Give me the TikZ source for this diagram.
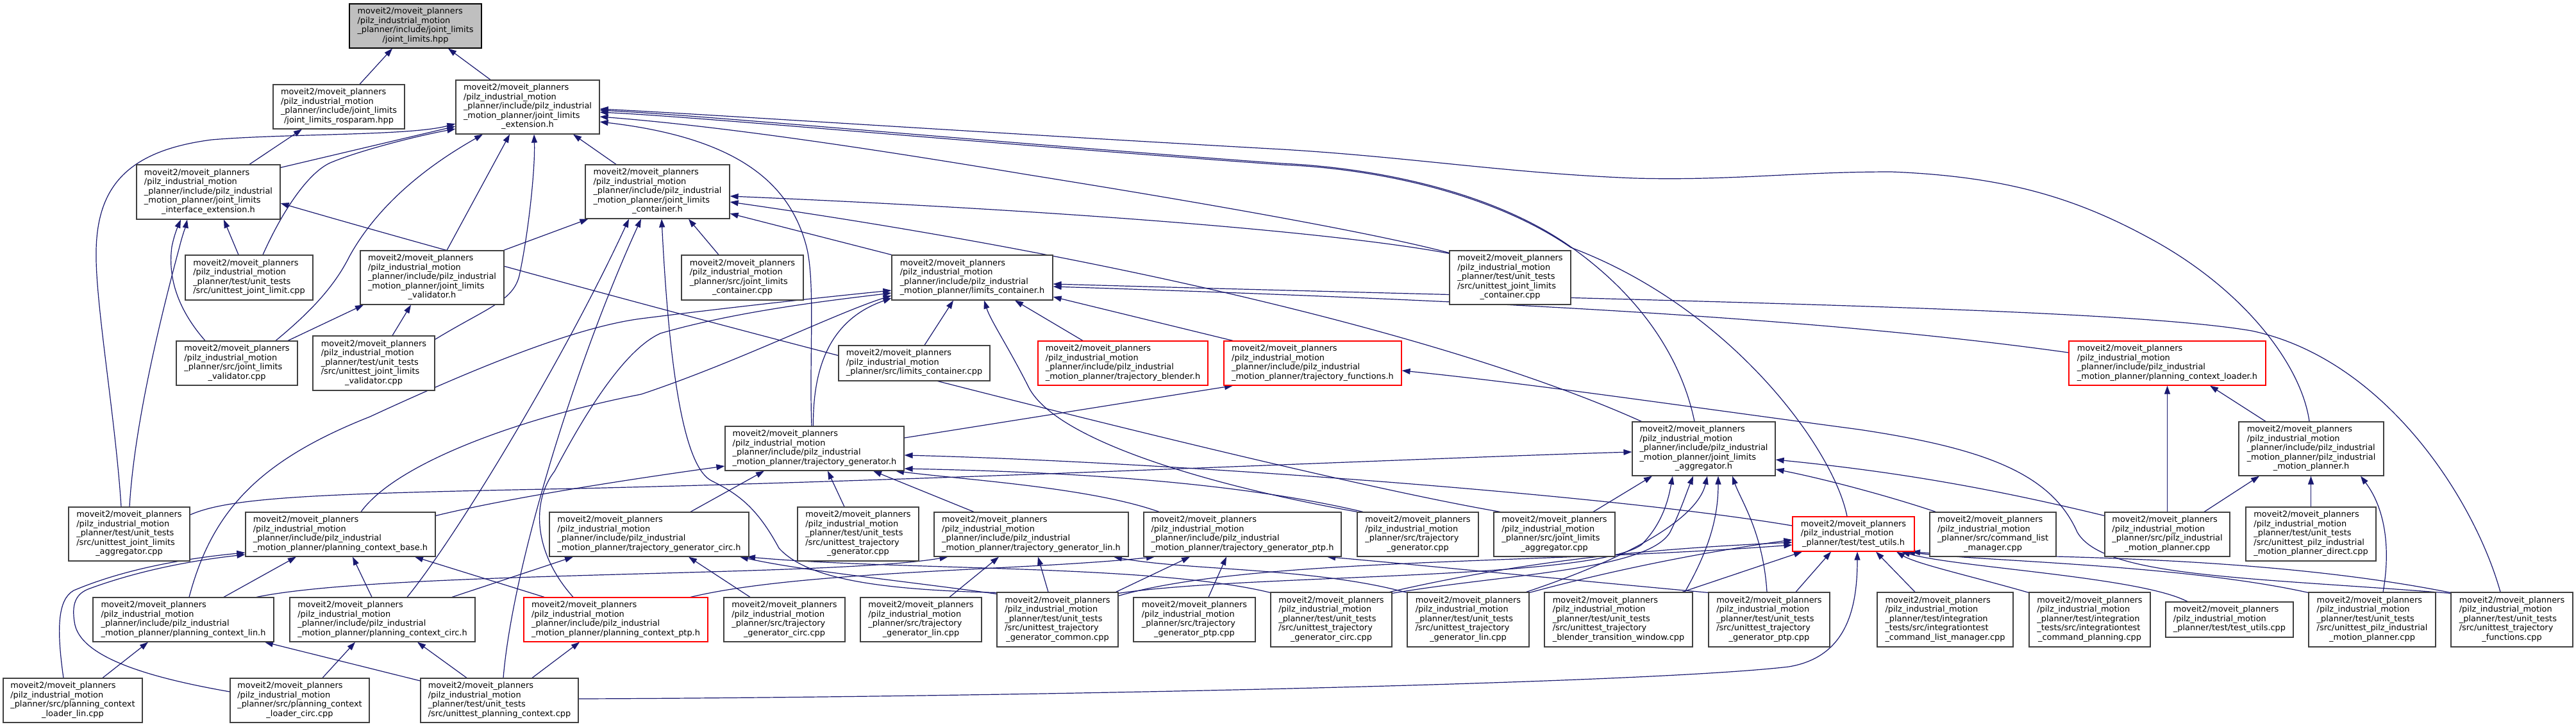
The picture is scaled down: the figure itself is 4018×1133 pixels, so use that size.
\documentclass[tikz,border=0pt]{standalone}
\usepackage{fontspec}
\newfontfamily\dvsans{DejaVu Sans}
\usetikzlibrary{arrows.meta,calc}
\pgfdeclarelayer{bg}
\pgfdeclarelayer{back}
\pgfsetlayers{back,bg,main}
\definecolor{eblue}{HTML}{191970}
\definecolor{bordc}{HTML}{404040}
\definecolor{rootfill}{HTML}{BFBFBF}
\newcommand\graphfont{\dvsans\fontsize{12.9pt}{14.5pt}\selectfont}
\newcommand\btx[2]{\begin{tabular}{@{}l@{}}#1\\\multicolumn{1}{@{}c@{}}{#2}\end{tabular}}
\newcommand\pfA{moveit2/moveit\_planners\\/pilz\_industrial\_motion}
\newcommand\pfInc{\pfA\\\_planner/include/pilz\_industrial}
\newcommand\pfUT{\pfA\\\_planner/test/unit\_tests}
\tikzset{
  nb/.style={draw=bordc, line width=1.2pt, fill=white, inner sep=0pt, font=\graphfont, text=black},
  rb/.style={nb, draw=red},
  gb/.style={nb, draw=black, fill=rootfill},
  edg/.style={draw=eblue, line width=1.2pt, -{Triangle[length=13pt,width=9pt]}},
}
\begin{document}
\begin{tikzpicture}[x=1pt,y=-1pt]
\begin{pgfonlayer}{back}
\fill[white] (0,0) rectangle (4018,1133);
\end{pgfonlayer}
\useasboundingbox (0,0) rectangle (4018,1133);
% ---------- nodes ----------
\node[gb, minimum width=206pt, minimum height=69pt] (ROOT) at (648,40.5) {\btx{\pfA\\\_planner/include/joint\_limits}{/joint\_limits.hpp}};
\node[nb, minimum width=205pt, minimum height=69pt] (ROS) at (528.5,166.5) {\btx{\pfA\\\_planner/include/joint\_limits}{/joint\_limits\_rosparam.hpp}};
\node[nb, minimum width=224pt, minimum height=84pt] (EXT) at (823,167) {\btx{\pfInc\\\_motion\_planner/joint\_limits}{\_extension.h}};
\node[nb, minimum width=224pt, minimum height=85pt] (IFACE) at (325,299.5) {\btx{\pfInc\\\_motion\_planner/joint\_limits}{\_interface\_extension.h}};
\node[nb, minimum width=225pt, minimum height=84pt] (JLC) at (1025.5,299) {\btx{\pfInc\\\_motion\_planner/joint\_limits}{\_container.h}};
\node[nb, minimum width=199pt, minimum height=70pt] (UTJL) at (388.5,433) {\btx{\pfUT}{/src/unittest\_joint\_limit.cpp}};
\node[nb, minimum width=224pt, minimum height=84pt] (VAL) at (674,433) {\btx{\pfInc\\\_motion\_planner/joint\_limits}{\_validator.h}};
\node[nb, minimum width=189pt, minimum height=69pt] (SVAL) at (369.5,566.5) {\btx{\pfA\\\_planner/src/joint\_limits}{\_validator.cpp}};
\node[nb, minimum width=190pt, minimum height=85pt] (UTVAL) at (583,566.5) {\btx{\pfUT\\/src/unittest\_joint\_limits}{\_validator.cpp}};
\node[nb, minimum width=190pt, minimum height=70pt] (SJLC) at (1158,433) {\btx{\pfA\\\_planner/src/joint\_limits}{\_container.cpp}};
\node[nb, minimum width=251pt, minimum height=70pt] (LC) at (1516.5,433) {\btx{\pfInc}{\_motion\_planner/limits\_container.h}};
\node[nb, minimum width=236pt, minimum height=55pt] (SLC) at (1426,566.5) {\btx{\pfA}{\_planner/src/limits\_container.cpp}};
\node[rb, minimum width=265pt, minimum height=69pt] (TB) at (1751.5,566.5) {\btx{\pfInc}{\_motion\_planner/trajectory\_blender.h}};
\node[rb, minimum width=277pt, minimum height=69pt] (TF) at (2047.5,566.5) {\btx{\pfInc}{\_motion\_planner/trajectory\_functions.h}};
\node[nb, minimum width=189pt, minimum height=84pt] (UTJLC) at (2355.5,433) {\btx{\pfUT\\/src/unittest\_joint\_limits}{\_container.cpp}};
\node[rb, minimum width=307pt, minimum height=69pt] (PCL) at (3380.5,566.5) {\btx{\pfInc}{\_motion\_planner/planning\_context\_loader.h}};
\node[nb, minimum width=279pt, minimum height=69pt] (TG) at (1270.5,699.5) {\btx{\pfInc}{\_motion\_planner/trajectory\_generator.h}};
\node[nb, minimum width=223pt, minimum height=84pt] (AGG) at (2657.5,700) {\btx{\pfInc\\\_motion\_planner/joint\_limits}{\_aggregator.h}};
\node[nb, minimum width=226pt, minimum height=84pt] (PIMP) at (3605,700) {\btx{\pfInc\\\_motion\_planner/pilz\_industrial}{\_motion\_planner.h}};
\node[nb, minimum width=189pt, minimum height=84pt] (UTAGG) at (201.5,833) {\btx{\pfUT\\/src/unittest\_joint\_limits}{\_aggregator.cpp}};
\node[nb, minimum width=296pt, minimum height=69pt] (PCB) at (531,833.5) {\btx{\pfInc}{\_motion\_planner/planning\_context\_base.h}};
\node[nb, minimum width=311pt, minimum height=69pt] (TGC) at (1012.5,833.5) {\btx{\pfInc}{\_motion\_planner/trajectory\_generator\_circ.h}};
\node[nb, minimum width=189pt, minimum height=84pt] (UTTG) at (1338.5,833) {\btx{\pfUT\\/src/unittest\_trajectory}{\_generator.cpp}};
\node[nb, minimum width=303pt, minimum height=69pt] (TGL) at (1608.5,833.5) {\btx{\pfInc}{\_motion\_planner/trajectory\_generator\_lin.h}};
\node[nb, minimum width=308pt, minimum height=69pt] (TGP) at (1938,833.5) {\btx{\pfInc}{\_motion\_planner/trajectory\_generator\_ptp.h}};
\node[nb, minimum width=189pt, minimum height=69pt] (STG) at (2211.5,833.5) {\btx{\pfA\\\_planner/src/trajectory}{\_generator.cpp}};
\node[nb, minimum width=189pt, minimum height=69pt] (SAGG) at (2424.5,833.5) {\btx{\pfA\\\_planner/src/joint\_limits}{\_aggregator.cpp}};
\node[rb, minimum width=190pt, minimum height=54pt] (TU) at (2891,833) {\btx{\pfA}{\_planner/test/test\_utils.h}};
\node[nb, minimum width=197pt, minimum height=69pt] (CLM) at (3108.5,833.5) {\btx{\pfA\\\_planner/src/command\_list}{\_manager.cpp}};
\node[nb, minimum width=195pt, minimum height=69pt] (SPIMP) at (3380.5,833.5) {\btx{\pfA\\\_planner/src/pilz\_industrial}{\_motion\_planner.cpp}};
\node[nb, minimum width=203pt, minimum height=84pt] (UTPIMPD) at (3604.5,833) {\btx{\pfUT\\/src/unittest\_pilz\_industrial}{\_motion\_planner\_direct.cpp}};
\node[nb, minimum width=282pt, minimum height=69pt] (PCLIN) at (286,966.5) {\btx{\pfInc}{\_motion\_planner/planning\_context\_lin.h}};
\node[nb, minimum width=289pt, minimum height=69pt] (PCCIRC) at (596.5,966.5) {\btx{\pfInc}{\_motion\_planner/planning\_context\_circ.h}};
\node[rb, minimum width=287pt, minimum height=69pt] (PCPTP) at (960.5,966.5) {\btx{\pfInc}{\_motion\_planner/planning\_context\_ptp.h}};
\node[nb, minimum width=189pt, minimum height=69pt] (STGC) at (1223.5,966.5) {\btx{\pfA\\\_planner/src/trajectory}{\_generator\_circ.cpp}};
\node[nb, minimum width=189pt, minimum height=69pt] (STGL) at (1436.5,966.5) {\btx{\pfA\\\_planner/src/trajectory}{\_generator\_lin.cpp}};
\node[nb, minimum width=189pt, minimum height=85pt] (UTTGCOM) at (1649.5,966.5) {\btx{\pfUT\\/src/unittest\_trajectory}{\_generator\_common.cpp}};
\node[nb, minimum width=190pt, minimum height=69pt] (STGP) at (1863,966.5) {\btx{\pfA\\\_planner/src/trajectory}{\_generator\_ptp.cpp}};
\node[nb, minimum width=189pt, minimum height=85pt] (UTTGCIRC) at (2076.5,966.5) {\btx{\pfUT\\/src/unittest\_trajectory}{\_generator\_circ.cpp}};
\node[nb, minimum width=190pt, minimum height=85pt] (UTTGLIN) at (2290,966.5) {\btx{\pfUT\\/src/unittest\_trajectory}{\_generator\_lin.cpp}};
\node[nb, minimum width=231pt, minimum height=85pt] (UTBTW) at (2524.5,966.5) {\btx{\pfUT\\/src/unittest\_trajectory}{\_blender\_transition\_window.cpp}};
\node[nb, minimum width=189pt, minimum height=85pt] (UTTGPTP) at (2759.5,966.5) {\btx{\pfUT\\/src/unittest\_trajectory}{\_generator\_ptp.cpp}};
\node[nb, minimum width=212pt, minimum height=85pt] (ITCLM) at (3034,966.5) {\btx{\pfA\\\_planner/test/integration\\\_tests/src/integrationtest}{\_command\_list\_manager.cpp}};
\node[nb, minimum width=189pt, minimum height=85pt] (ITCP) at (3259.5,966.5) {\btx{\pfA\\\_planner/test/integration\\\_tests/src/integrationtest}{\_command\_planning.cpp}};
\node[nb, minimum width=199pt, minimum height=55pt] (TUCPP) at (3477.5,966.5) {\btx{\pfA}{\_planner/test/test\_utils.cpp}};
\node[nb, minimum width=198pt, minimum height=85pt] (UTPIMP) at (3700,966.5) {\btx{\pfUT\\/src/unittest\_pilz\_industrial}{\_motion\_planner.cpp}};
\node[nb, minimum width=190pt, minimum height=85pt] (UTTF) at (3918,966.5) {\btx{\pfUT\\/src/unittest\_trajectory}{\_functions.cpp}};
\node[nb, minimum width=217pt, minimum height=69pt] (LLIN) at (113.5,1092.5) {\btx{\pfA\\\_planner/src/planning\_context}{\_loader\_lin.cpp}};
\node[nb, minimum width=217pt, minimum height=69pt] (LCIRC) at (467.5,1092.5) {\btx{\pfA\\\_planner/src/planning\_context}{\_loader\_circ.cpp}};
\node[nb, minimum width=246pt, minimum height=69pt] (UTPC) at (779,1092.5) {\btx{\pfUT}{/src/unittest\_planning\_context.cpp}};
% ---------- edges ----------
\begin{pgfonlayer}{bg}
\draw[edg] ([xshift=32.5pt]ROS.north) -- ([xshift=-36pt]ROOT.south);
\draw[edg] ([xshift=-58pt]EXT.north) -- ([xshift=51pt]ROOT.south);
\draw[edg] ([xshift=64pt]IFACE.north) -- ([xshift=-57.5pt]ROS.south);
\draw[edg] ([yshift=-5pt]IFACE.north east) -- ([yshift=-30pt]EXT.west);
\draw[edg] ([xshift=-12.5pt]UTAGG.north) .. controls (180,650) and (148,470) .. (150,390) .. controls (152,290) and (200,235) .. (330,218) .. controls (450,208) and (640,212) .. ([yshift=-26pt]EXT.west);
\draw[edg] ([xshift=21.5pt]UTJL.north) .. controls (440,330) and (480,270) .. (515,254) .. controls (560,235) and (650,212) .. ([yshift=-34pt]EXT.west);
\draw[edg] ([xshift=60.5pt]SVAL.north) .. controls (480,490) and (520,450) .. (545,400) .. controls (600,300) and (700,240) .. ([xshift=-70pt]EXT.south);
\draw[edg] ([xshift=23pt]VAL.north) -- ([xshift=-28pt]EXT.south);
\draw[edg] ([yshift=-6pt]UTVAL.north east) .. controls (760,480) and (800,470) .. (810,430) .. controls (825,360) and (835,260) .. ([xshift=10pt]EXT.south);
\draw[edg] ([xshift=-64.5pt]JLC.north) -- ([xshift=71pt]EXT.south);
\draw[edg] ([xshift=-3pt]PIMP.north) .. controls (3590,570) and (3500,450) .. (3350,370) .. controls (3230,305) and (3120,275) .. (2950,268) .. controls (2800,268) and (2700,282) .. (2550,278) .. controls (2350,270) and (2200,245) .. (2000,233) .. controls (1500,205) and (1100,178) .. ([yshift=-3pt]EXT.east);
\draw[edg] ([xshift=-14.5pt]AGG.north) .. controls (2625,570) and (2570,470) .. (2450,385) .. controls (2330,300) and (2150,262) .. (2000,255) .. controls (1500,218) and (1100,180) .. ([yshift=-5pt]EXT.east);
\draw[edg] ([xshift=-10pt]TU.north) .. controls (2860,700) and (2700,480) .. (2450,386) .. controls (2330,303) and (2150,263) .. (2000,257) .. controls (1500,221) and (1100,183) .. ([yshift=-8pt]EXT.east);
\draw[edg] ([yshift=-4pt]UTJLC.north west) .. controls (2150,365) and (1900,320) .. (1600,272) .. controls (1300,222) and (1100,195) .. ([yshift=-15pt]EXT.east);
\draw[edg] ([xshift=-4.5pt]TG.north) .. controls (1262,560) and (1272,440) .. (1258,385) .. controls (1232,285) and (1150,215) .. ([yshift=-23pt]EXT.east);
\draw[edg] ([xshift=-16.5pt]UTJL.north) -- ([xshift=24pt]IFACE.south);
\draw[edg] ([xshift=-49.5pt]SVAL.north) .. controls (275,480) and (262,430) .. (268,385) .. controls (272,365) and (278,352) .. ([xshift=-43pt]IFACE.south);
\draw[edg] ([xshift=0.5pt]UTAGG.north) .. controls (210,650) and (260,460) .. (280,385) .. controls (285,365) and (290,352) .. ([xshift=-33pt]IFACE.south);
\draw[edg] ([xshift=-84.5pt]SAGG.north) .. controls (2000,740) and (1000,480) .. ([yshift=-17.5pt]IFACE.east);
\draw[edg] ([xshift=-1pt]VAL.north east) -- ([xshift=5pt]JLC.south west);
\draw[edg] ([xshift=-37pt]SJLC.north) -- ([xshift=48.5pt]JLC.south);
\draw[edg] (LC.north west) -- ([yshift=-34pt]JLC.east);
\draw[edg] ([xshift=15pt]AGG.north west) .. controls (2300,540) and (1800,410) .. ([yshift=-16pt]JLC.east);
\draw[edg] ([yshift=-5pt]UTJLC.north west) .. controls (2100,365) and (1700,330) .. ([yshift=-7pt]JLC.east);
\draw[edg] ([xshift=38.5pt]PCCIRC.north) .. controls (710,840) and (880,560) .. ([xshift=-44.5pt]JLC.south);
\draw[edg] ([xshift=6pt]UTPC.north) .. controls (800,880) and (900,560) .. ([xshift=-25.5pt]JLC.south);
\draw[edg] ([yshift=-1pt]UTTGCOM.north west) .. controls (1380,920) and (1260,905) .. (1215,855) .. controls (1180,790) and (1150,770) .. (1110,750) .. controls (1070,730) and (1045,600) .. ([xshift=6.5pt]JLC.south);
\draw[edg] ([xshift=79.5pt]SVAL.north) -- ([xshift=-107pt]VAL.south);
\draw[edg] ([xshift=29pt]UTVAL.north) -- ([xshift=-33pt]VAL.south);
\draw[edg] ([xshift=16pt]SLC.north) -- ([xshift=-29.5pt]LC.south);
\draw[edg] ([xshift=-62.5pt]TB.north) -- ([xshift=66.5pt]LC.south);
\draw[edg] ([xshift=-124.5pt]TF.north) -- ([yshift=-30pt]LC.east);
\draw[edg] ([xshift=-2pt]TG.north) .. controls (1268,580) and (1290,500) .. ([yshift=-32pt]LC.west);
\draw[edg] ([xshift=-18pt]UTTF.north) .. controls (3860,780) and (3720,560) .. (3512,516) .. controls (3300,480) and (2600,470) .. ([yshift=-10pt]LC.east);
\draw[edg] ([xshift=32pt]PCB.north) .. controls (620,720) and (820,650) .. (1000,615) .. controls (1150,565) and (1300,490) .. ([yshift=-28pt]LC.west);
\draw[edg] ([xshift=9pt]PCLIN.north) .. controls (330,800) and (400,720) .. (577,650) .. controls (750,570) and (900,510) .. (1000,497) .. controls (1150,478) and (1300,462) .. ([yshift=-20pt]LC.west);
\draw[edg] ([xshift=-66.5pt]PCPTP.north) .. controls (830,860) and (830,780) .. (865,735) .. controls (915,640) and (975,545) .. (1030,520) .. controls (1150,485) and (1300,468) .. ([yshift=-24pt]LC.west);
\draw[edg] ([xshift=-94.5pt]STG.north) .. controls (1900,760) and (1650,690) .. (1605,605) .. controls (1575,545) and (1545,500) .. ([xshift=18.5pt]LC.south);
\draw[edg] ([yshift=16.5pt]PCL.west) .. controls (2800,490) and (2200,465) .. ([yshift=-14pt]LC.east);
\draw[edg] ([yshift=-2pt]UTTF.north west) .. controls (3500,900) and (3280,900) .. (3240,830) .. controls (3200,740) and (3100,700) .. (2900,670) .. controls (2600,630) and (2400,600) .. ([yshift=-11.5pt]TF.east);
\draw[edg] ([yshift=16.5pt]TG.east) -- ([xshift=-124.5pt]TF.south);
\draw[edg] ([xshift=-71pt]PIMP.north) -- ([xshift=66.5pt]PCL.south);
\draw[edg] (SPIMP.north) -- (PCL.south);
\draw[edg] ([xshift=57.5pt]SPIMP.north) -- ([xshift=-81pt]PIMP.south);
\draw[edg] (UTPIMPD.north) -- ([xshift=-0.5pt]PIMP.south);
\draw[edg] ([xshift=17pt]UTPIMP.north) .. controls (3730,850) and (3718,790) .. ([xshift=77pt]PIMP.south);
\draw[edg] ([yshift=-6pt]SPIMP.north west) .. controls (3100,760) and (2950,735) .. ([yshift=-17pt]AGG.east);
\draw[edg] ([xshift=10pt]CLM.north west) .. controls (2950,775) and (2850,748) .. ([yshift=-32pt]AGG.east);
\draw[edg] ([xshift=60.5pt]SAGG.north) -- ([xshift=-80.5pt]AGG.south);
\draw[edg] ([yshift=30pt]UTAGG.east) .. controls (360,775) and (500,770) .. (900,762) .. controls (1500,748) and (2200,715) .. ([yshift=-5pt]AGG.west);
\draw[edg] ([yshift=-2pt]UTTGCOM.north east) .. controls (1950,895) and (2480,905) .. (2560,850) .. controls (2595,815) and (2603,775) .. ([xshift=-48.5pt]AGG.south);
\draw[edg] ([yshift=-2pt]UTTGCIRC.north east) .. controls (2350,895) and (2570,890) .. (2605,830) .. controls (2620,800) and (2630,770) .. ([xshift=-16.5pt]AGG.south);
\draw[edg] ([xshift=-5pt]UTTGLIN.north east) .. controls (2570,860) and (2650,800) .. ([xshift=5.5pt]AGG.south);
\draw[edg] ([xshift=103.5pt]UTBTW.north) .. controls (2670,850) and (2680,800) .. ([xshift=22.5pt]AGG.south);
\draw[edg] ([xshift=-3.5pt]UTTGPTP.north) .. controls (2750,830) and (2715,780) .. ([xshift=44.5pt]AGG.south);
\draw[edg] ([yshift=13pt]TU.west) .. controls (2500,770) and (1800,720) .. ([yshift=-10.5pt]TG.east);
\draw[edg] ([yshift=-6pt]UTTGCOM.north east) .. controls (1950,870) and (2400,880) .. ([yshift=-17pt]TU.west);
\draw[edg] ([xshift=-4pt]UTTGCIRC.north east) .. controls (2400,870) and (2600,855) .. ([yshift=-13pt]TU.west);
\draw[edg] ([yshift=-1pt]UTTGLIN.north east) .. controls (2550,880) and (2700,855) .. ([yshift=-9pt]TU.west);
\draw[edg] ([xshift=99.5pt]UTBTW.north) -- ([xshift=-80pt]TU.south);
\draw[edg] ([xshift=41.5pt]UTTGPTP.north) -- ([xshift=-35pt]TU.south);
\draw[edg] ([yshift=2.5pt]UTPC.east) .. controls (1500,1088) and (2550,1068) .. (2790,1040) .. controls (2880,1025) and (2897,950) .. ([xshift=6pt]TU.south);
\draw[edg] ([xshift=-47pt]ITCLM.north) -- ([xshift=35pt]TU.south);
\draw[edg] ([yshift=-1pt]ITCP.north west) .. controls (3080,900) and (2990,880) .. ([xshift=67pt]TU.south);
\draw[edg] ([xshift=-65.5pt]TUCPP.north) .. controls (3340,900) and (3050,885) .. ([xshift=75pt]TU.south);
\draw[edg] ([yshift=-1pt]UTPIMP.north west) .. controls (3400,880) and (3080,875) .. ([xshift=83pt]TU.south);
\draw[edg] ([yshift=-1pt]UTTF.north west) .. controls (3500,860) and (3090,870) .. ([xshift=91pt]TU.south);
\draw[edg] ([yshift=-6pt]PCB.north east) .. controls (800,775) and (1000,745) .. ([yshift=-27.5pt]TG.west);
\draw[edg] ([xshift=64.5pt]TGC.north) -- ([xshift=-78.5pt]TG.south);
\draw[edg] ([xshift=-21.5pt]UTTG.north) -- ([xshift=20.5pt]TG.south);
\draw[edg] ([xshift=-89.5pt]TGL.north) -- ([xshift=91.5pt]TG.south);
\draw[edg] ([xshift=-130pt]TGP.north) .. controls (1700,760) and (1500,748) .. ([xshift=126.5pt]TG.south);
\draw[edg] ([xshift=-85.5pt]STG.north) .. controls (1900,745) and (1600,735) .. ([yshift=-31.5pt]TG.east);
\draw[edg] ([xshift=108.5pt]PCCIRC.north) -- ([xshift=-118.5pt]TGC.south);
\draw[edg] ([xshift=-53.5pt]STGC.north) -- ([xshift=61.5pt]TGC.south);
\draw[edg] ([yshift=-3pt]UTTGCOM.north west) .. controls (1400,905) and (1250,890) .. ([xshift=141.5pt]TGC.south);
\draw[edg] ([yshift=-1pt]UTTGCIRC.north west) .. controls (1800,880) and (1400,890) .. ([xshift=152.5pt]TGC.south);
\draw[edg] ([xshift=114pt]PCLIN.north) .. controls (600,890) and (1300,900) .. ([xshift=-130pt]TGL.south);
\draw[edg] ([xshift=44.5pt]STGL.north) -- ([xshift=-50.5pt]TGL.south);
\draw[edg] ([xshift=-14.5pt]UTTGCOM.north) -- ([xshift=10.5pt]TGL.south);
\draw[edg] ([yshift=-1pt]UTTGLIN.north west) .. controls (2050,885) and (1850,890) .. ([xshift=128.5pt]TGL.south);
\draw[edg] ([xshift=116.5pt]PCPTP.north) .. controls (1250,890) and (1600,890) .. ([xshift=-137pt]TGP.south);
\draw[edg] ([xshift=22pt]STGP.north) -- ([xshift=-25pt]TGP.south);
\draw[edg] ([xshift=-4pt]UTTGCOM.north east) -- ([xshift=-82pt]TGP.south);
\draw[edg] ([yshift=-1pt]UTTGPTP.north west) .. controls (2400,900) and (2200,880) .. ([xshift=132pt]TGP.south);
\draw[edg] ([xshift=63pt]PCLIN.north) -- ([xshift=-69pt]PCB.south);
\draw[edg] ([xshift=-16.5pt]PCCIRC.north) -- ([xshift=19pt]PCB.south);
\draw[edg] ([xshift=-111.5pt]PCPTP.north) -- ([xshift=116pt]PCB.south);
\draw[edg] ([xshift=-14.5pt]LLIN.north) .. controls (88,980) and (90,935) .. (115,921) .. controls (200,885) and (300,870) .. ([yshift=-28.5pt]PCB.west);
\draw[edg] ([yshift=13.5pt]LCIRC.west) .. controls (250,1060) and (130,1030) .. (117,975) .. controls (110,940) and (120,925) .. (140,918) .. controls (230,885) and (320,872) .. ([yshift=-31.5pt]PCB.west);
\draw[edg] ([xshift=46.5pt]LLIN.north) -- ([xshift=-55pt]PCLIN.south);
\draw[edg] ([yshift=30.5pt]UTPC.west) -- ([xshift=127pt]PCLIN.south);
\draw[edg] ([xshift=35.5pt]LCIRC.north) -- ([xshift=-42.5pt]PCCIRC.south);
\draw[edg] ([xshift=-51pt]UTPC.north) -- ([xshift=54.5pt]PCCIRC.south);
\draw[edg] ([xshift=51pt]UTPC.north) -- ([xshift=-56.5pt]PCPTP.south);
\end{pgfonlayer}
\end{tikzpicture}
\end{document}
